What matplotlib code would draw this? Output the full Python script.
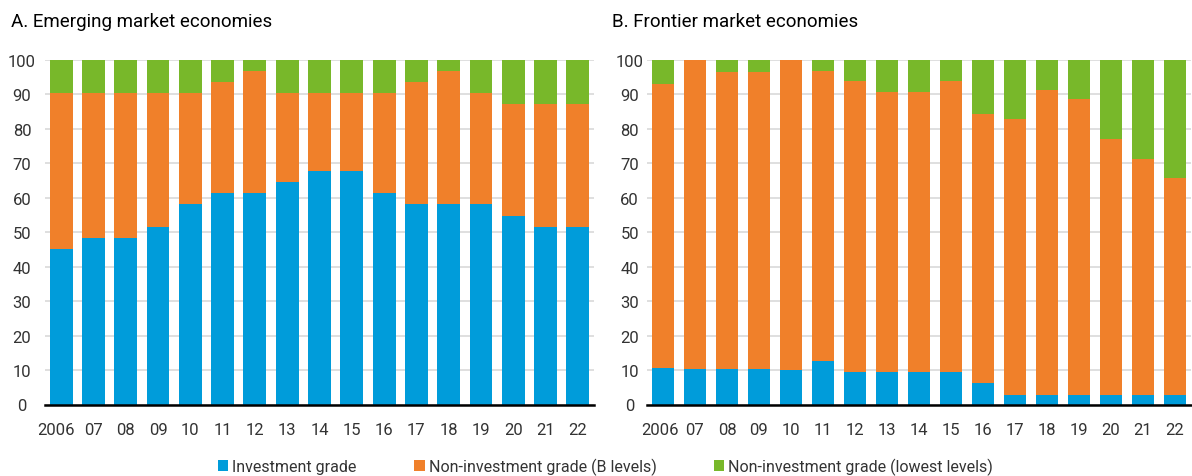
import numpy as np
import matplotlib.pyplot as plt
from matplotlib.transforms import ScaledTranslation

plt.rcParams['font.family'] = ['Roboto', 'DejaVu Sans']

years = ['2006', '07', '08', '09', '10', '11', '12', '13', '14', '15',
         '16', '17', '18', '19', '20', '21', '22']

# panel A: emerging market economies (percent)
em_inv = [45.2, 48.4, 48.4, 51.6, 58.1, 61.3, 61.3, 64.5, 67.7, 67.7,
          61.3, 58.1, 58.1, 58.1, 54.8, 51.6, 51.6]
em_b = [45.1, 41.9, 41.9, 38.7, 32.2, 32.2, 35.5, 25.8, 22.6, 22.6,
        29.0, 35.4, 38.7, 32.2, 32.3, 35.5, 35.5]
em_low = [9.7, 9.7, 9.7, 9.7, 9.7, 6.5, 3.2, 9.7, 9.7, 9.7,
          9.7, 6.5, 3.2, 9.7, 12.9, 12.9, 12.9]

# panel B: frontier market economies (percent)
fm_inv = [10.7, 10.3, 10.3, 10.3, 10.0, 12.5, 9.4, 9.4, 9.4, 9.4,
          6.2, 2.9, 2.9, 2.9, 2.9, 2.9, 2.9]
fm_b = [82.2, 89.7, 86.3, 86.3, 90.0, 84.4, 84.4, 81.2, 81.2, 84.4,
        78.2, 80.0, 88.5, 85.7, 74.2, 68.5, 62.8]
fm_low = [7.1, 0.0, 3.4, 3.4, 0.0, 3.1, 6.2, 9.4, 9.4, 6.2,
          15.6, 17.1, 8.6, 11.4, 22.9, 28.6, 34.3]

blue = '#009cda'
orange = '#f0802a'
green = '#78b82a'

fig = plt.figure(figsize=(11.92, 4.77), dpi=100)
bot = 1 - 405.5 / 477
hgt = 344.5 / 477
ax1 = fig.add_axes([45 / 1192, bot, 549 / 1192, hgt])
ax2 = fig.add_axes([647 / 1192, bot, 544 / 1192, hgt])

x = np.arange(len(years))
w = 0.71

panels = [(ax1, em_inv, em_b, em_low, 'A. Emerging market economies', 16.5, 5),
          (ax2, fm_inv, fm_b, fm_low, 'B. Frontier market economies', 12.5, 3)]
for ax, inv, b, low, title, ypad, shift in panels:
    inv = np.array(inv)
    b = np.array(b)
    low = np.array(low)
    h1 = ax.bar(x, inv, w, color=blue, zorder=2)
    h2 = ax.bar(x, b, w, bottom=inv, color=orange, zorder=2)
    h3 = ax.bar(x, low, w, bottom=inv + b, color=green, zorder=2)
    ax.set_ylim(0, 100)
    ax.set_xlim(-0.5, len(years) - 0.5)
    ax.set_yticks(range(0, 101, 10))
    ax.set_xticks(x)
    ax.set_xticklabels(years)
    ax.grid(axis='y', color='#d9d9d9', linewidth=1.2, zorder=0)
    for s in ['top', 'right', 'left']:
        ax.spines[s].set_visible(False)
    ax.spines['bottom'].set_color('black')
    ax.spines['bottom'].set_linewidth(1.8)
    ax.spines['bottom'].set_zorder(3)
    ax.tick_params(axis='both', length=0, labelsize=12, colors='#333333')
    ax.tick_params(axis='x', pad=12.5)
    ax.tick_params(axis='y', pad=ypad)
    for lab in ax.get_yticklabels():
        lab.set_horizontalalignment('center')
    first = ax.get_xticklabels()[0]
    first.set_transform(first.get_transform() +
                        ScaledTranslation(-shift / 100, 0, fig.dpi_scale_trans))
    ax.text(11 / 1192 if ax is ax1 else 612 / 1192, 1 - 27 / 477, title,
            transform=fig.transFigure, fontsize=13.5,
            color='black', va='baseline', ha='left')

fig.legend([h1, h2, h3],
           ['Investment grade', 'Non-investment grade (B levels)',
            'Non-investment grade (lowest levels)'],
           loc='center', bbox_to_anchor=(0.508, 0.02), ncol=3, frameon=False,
           fontsize=11.5, handlelength=0.65, handleheight=0.65, handletextpad=0.25,
           columnspacing=3.6, labelcolor='#333333')

fig.savefig('out.png', dpi=100)
